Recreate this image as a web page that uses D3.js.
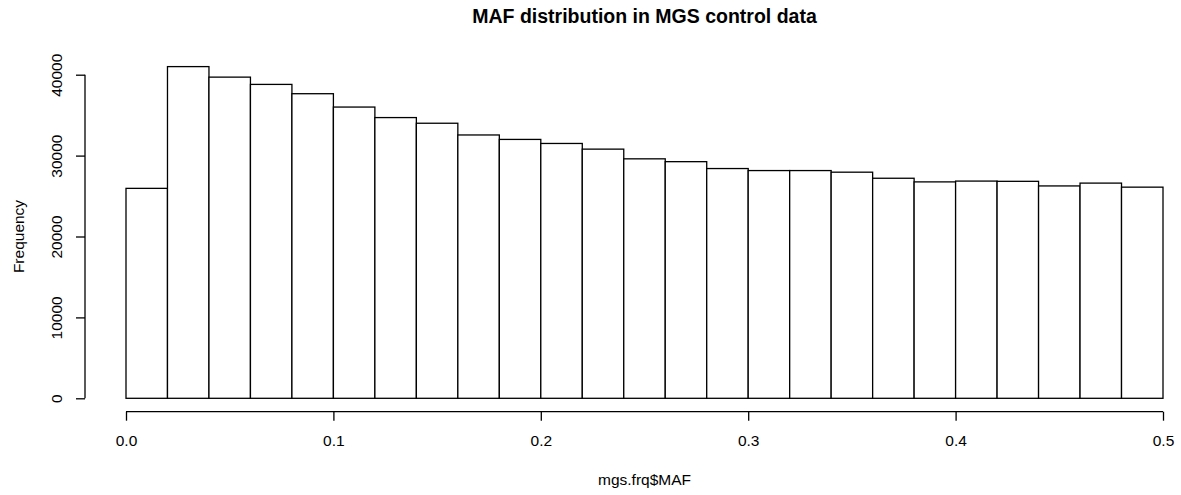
<!DOCTYPE html>
<html>
<head>
<meta charset="utf-8">
<script src="https://cdn.jsdelivr.net/npm/d3@7"></script>
<style>
  body { margin: 0; background: #fff; }
  text { font-family: "Liberation Sans", Arial, Helvetica, sans-serif; fill: #000; }
</style>
</head>
<body>
<div id="chart"></div>
<script>
// histogram bins (MAF, width 0.02) and counts
const binStarts = [0.00, 0.02, 0.04, 0.06, 0.08, 0.10, 0.12, 0.14, 0.16, 0.18,
  0.20, 0.22, 0.24, 0.26, 0.28, 0.30, 0.32, 0.34, 0.36, 0.38,
  0.40, 0.42, 0.44, 0.46, 0.48];
const counts = [25950, 41000, 39700, 38800, 37650, 36000, 34700, 34000, 32550, 32000,
  31500, 30800, 29600, 29250, 28400, 28150, 28150, 27950, 27200, 26750,
  26850, 26820, 26250, 26600, 26100];
const binWidth = 0.02;
const xTicks = [0.0, 0.1, 0.2, 0.3, 0.4, 0.5];
const yTicks = [0, 10000, 20000, 30000, 40000];

const W = 1181, H = 495;

const svg = d3.select("#chart")
  .append("svg")
  .attr("width", W)
  .attr("height", H);

const x = d3.scaleLinear().domain([0, 0.5]).range([126, 1163]);
const y = d3.scaleLinear().domain([0, 40000]).range([398.3, 74.7]);

// bars
svg.append("g")
  .selectAll("rect")
  .data(binStarts)
  .join("rect")
  .attr("x", (d) => x(d))
  .attr("y", (d, i) => y(counts[i]))
  .attr("width", (d) => x(d + binWidth) - x(d))
  .attr("height", (d, i) => y(0) - y(counts[i]))
  .attr("fill", "#fff")
  .attr("stroke", "#000")
  .attr("stroke-width", 1.3);

// x axis
const xAxis = svg.append("g")
  .attr("transform", "translate(0,411.7)")
  .call(d3.axisBottom(x).tickValues(xTicks).tickFormat(d3.format(".1f")).tickSize(9).tickPadding(14));
xAxis.select(".domain").attr("d", `M${x(0)},0H${x(0.5)}`).attr("stroke-width", 1.3);
xAxis.selectAll(".tick line").attr("stroke-width", 1.3);
xAxis.selectAll("text").style("font-size", "15.5px").style("font-family", "Liberation Sans, Arial, sans-serif");

// y axis
const yAxis = svg.append("g")
  .attr("transform", "translate(85,0)")
  .call(d3.axisLeft(y).tickValues(yTicks).tickFormat(d3.format("d")).tickSize(9));
yAxis.select(".domain").attr("d", `M0,${y(0)}V${y(40000)}`).attr("stroke-width", 1.3);
yAxis.selectAll(".tick line").attr("stroke-width", 1.3);
yAxis.selectAll("text")
  .attr("x", null).attr("dy", null)
  .attr("text-anchor", "middle")
  .attr("transform", "translate(-23,0) rotate(-90)")
  .style("font-size", "15.5px")
  .style("font-family", "Liberation Sans, Arial, sans-serif");

// title and axis labels
svg.append("text")
  .attr("x", (x(0) + x(0.5)) / 2)
  .attr("y", 23)
  .attr("text-anchor", "middle")
  .style("font-size", "19.5px")
  .style("font-weight", "bold")
  .text("MAF distribution in MGS control data");

svg.append("text")
  .attr("x", (x(0) + x(0.5)) / 2)
  .attr("y", 485)
  .attr("text-anchor", "middle")
  .style("font-size", "15.5px")
  .text("mgs.frq$MAF");

svg.append("text")
  .attr("transform", `translate(23.5,${(y(0) + y(40000)) / 2}) rotate(-90)`)
  .attr("text-anchor", "middle")
  .style("font-size", "15.5px")
  .text("Frequency");
</script>
</body>
</html>
